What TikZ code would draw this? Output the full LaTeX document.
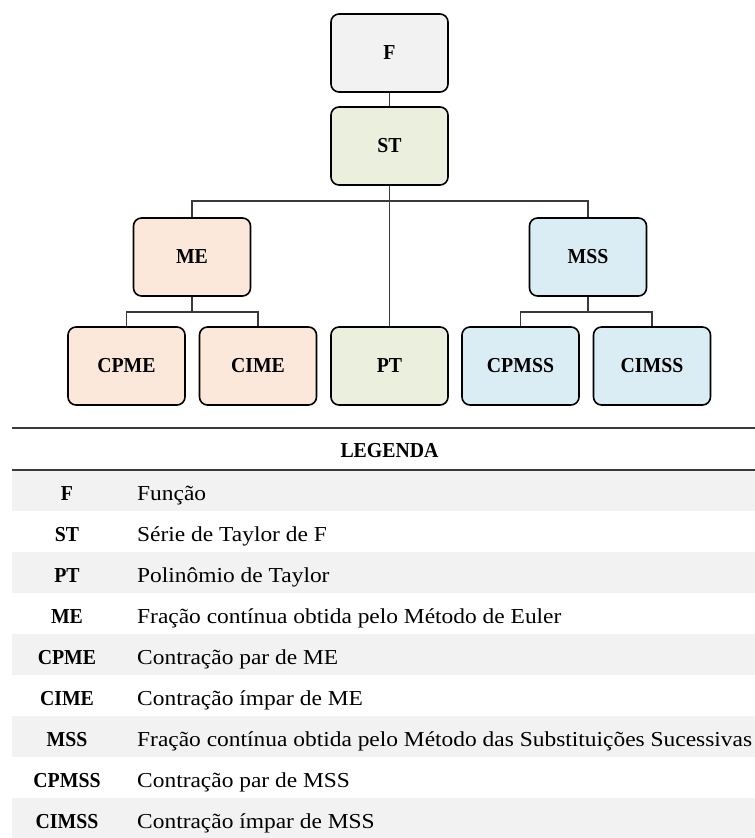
\documentclass[tikz,border=0pt]{standalone}
\usepackage{fontspec}
\setmainfont{Liberation Serif}[FakeStretch=1.1, BoldFeatures={FakeStretch=0.93}]
\definecolor{boxgrey}{HTML}{F2F2F2}
\definecolor{boxgreen}{HTML}{EBF0DE}
\definecolor{boxpeach}{HTML}{FCE8DA}
\definecolor{boxblue}{HTML}{DBEDF4}
\definecolor{rowgrey}{HTML}{F2F2F2}
\definecolor{rulegrey}{HTML}{3A3A3A}
\newcommand{\legsize}{\fontsize{21.3}{25}\selectfont}
\tikzset{
  treebox/.style={rectangle, rounded corners=8pt, draw=black, line width=1.6pt,
    minimum width=117pt, minimum height=78pt, font=\legsize\bfseries},
  link/.style={draw=rulegrey, line width=1.7pt},
  legrule/.style={draw=rulegrey, line width=1.8pt},
  abbr/.style={font=\legsize\bfseries, anchor=base, inner sep=0pt},
  desc/.style={font=\legsize, anchor=base west, inner sep=0pt}
}
\begin{document}
\begin{tikzpicture}[x=1pt, y=-1pt]
  \useasboundingbox (0,0) rectangle (755,838);
  % tree boxes:
  \node [treebox, fill=boxgrey]  (f)     at (389.5,53)  {F};
  \node [treebox, fill=boxgreen] (st)    at (389.5,146) {ST};
  \node [treebox, fill=boxpeach] (me)    at (192,257)   {ME};
  \node [treebox, fill=boxblue]  (mss)   at (588,257)   {MSS};
  \node [treebox, fill=boxpeach] (cpme)  at (126.5,366) {CPME};
  \node [treebox, fill=boxpeach] (cime)  at (258,366)   {CIME};
  \node [treebox, fill=boxgreen] (pt)    at (389.5,366) {PT};
  \node [treebox, fill=boxblue]  (cpmss) at (520.5,366) {CPMSS};
  \node [treebox, fill=boxblue]  (cimss) at (652,366)   {CIMSS};
  % connectors:
  \coordinate (stbar)  at (389.5,201);
  \coordinate (mebar)  at (192,312);
  \coordinate (mssbar) at (588,312);
  \draw [link] (f) -- (st);
  \draw [link] (st) -- (pt);
  \draw [link] (me.north) |- (stbar) -| (mss.north);
  \draw [link] (me) -- (mebar);
  \draw [link] (cpme.north) |- (mebar) -| (cime.north);
  \draw [link] (mss) -- (mssbar);
  \draw [link] (cpmss.north) |- (mssbar) -| (cimss.north);
  % legend:
  \draw [legrule] (12,428) -- (755,428);
  \node [abbr] (leg) at (389.5,457) {LEGENDA};
  \foreach \abbr/\desc [count = \i] in {F/Função, ST/Série de Taylor de F,
      PT/Polinômio de Taylor, ME/Fração contínua obtida pelo Método de Euler,
      CPME/Contração par de ME, CIME/Contração ímpar de ME,
      MSS/Fração contínua obtida pelo Método das Substituições Sucessivas,
      CPMSS/Contração par de MSS, CIMSS/Contração ímpar de MSS} {
    \pgfmathsetmacro{\y}{470+41*(\i-1)}
    \ifodd\i
    \fill [rowgrey] (12,\y) rectangle (755,\y+41);
    \fi
    \node [abbr] (a\i) at (67,\y+30) {\abbr};
    \node [desc] (d\i) at (137,\y+30) {\desc};
  }
  \draw [legrule] (12,470) -- (755,470);
\end{tikzpicture}
\end{document}
